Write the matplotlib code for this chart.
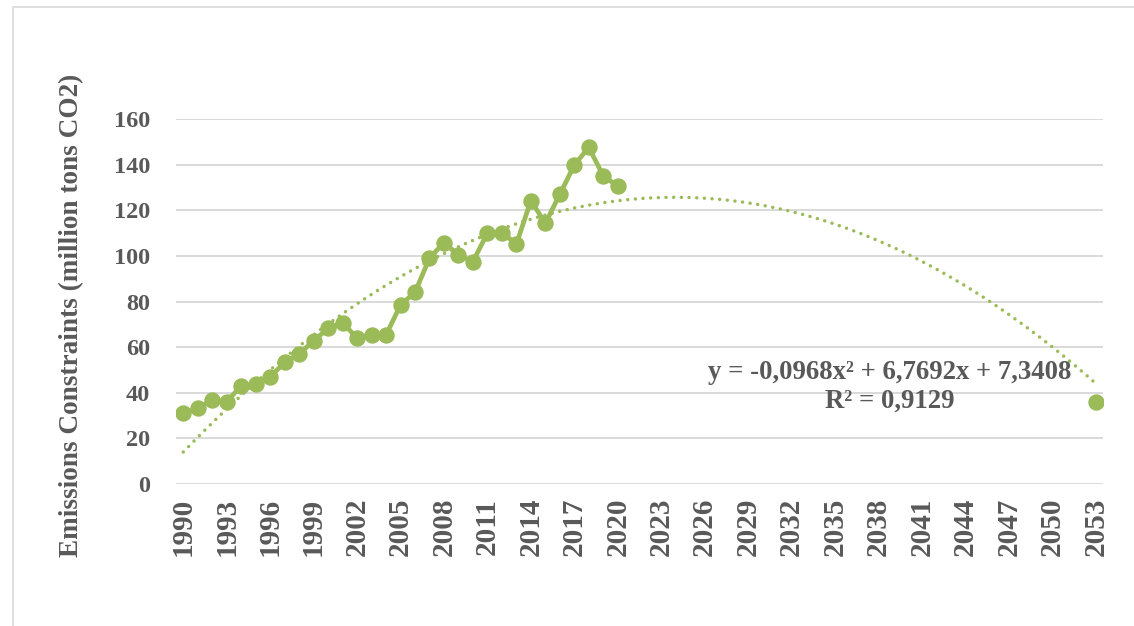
import numpy as np
import matplotlib.pyplot as plt
from matplotlib.patches import Rectangle

years = list(range(1990, 2054))
observed_years = list(range(1990, 2021)) + [2053]
emissions = [31.0, 33.2, 36.8, 36.1, 43.0, 43.7, 47.0, 53.3, 57.0, 62.8,
             68.2, 70.7, 64.0, 65.3, 65.3, 78.5, 84.0, 99.0, 105.8, 100.4,
             97.5, 110.0, 110.2, 105.2, 124.2, 114.3, 127.0, 139.8, 147.6, 135.0,
             130.6, 36.0]
# poly trend (order 2) over category index x = 1..64
trend_coef = [-0.0968, 6.7692, 7.3408]
r_squared = 0.9129
y_ticks = [0, 20, 40, 60, 80, 100, 120, 140, 160]

green = "#9BBB59"
grey_txt = "#595959"
grid_col = "#D9D9D9"
serif = ["Liberation Serif", "DejaVu Serif"]

fig = plt.figure(figsize=(11.34, 6.26), dpi=100)
fig.patches.append(Rectangle((13 / 1134, -0.1), 1.2, 1 - 7 / 626 + 0.1,
                             transform=fig.transFigure, fill=False,
                             edgecolor=grid_col, linewidth=1.2))
ax = fig.add_axes([176 / 1134, 1 - 484 / 626, 927 / 1134, 365 / 626])

idx = {yr: i + 1 for i, yr in enumerate(years)}
xs = [idx[y] for y in observed_years]

# 1990-2020 connected, 2053 on its own
ax.plot(xs[:-1], emissions[:-1], color=green, linewidth=3.4, marker="o",
        markersize=10.8, zorder=3)
ax.plot(xs[-1:], emissions[-1:], color=green, linestyle="none", marker="o",
        markersize=10.8, zorder=3)

tx = np.linspace(1, len(years), 400)
ty = np.polyval(trend_coef, tx)
ax.plot(tx, ty, color=green, linewidth=2.5, linestyle=(0, (0.01, 2.2)),
        dash_capstyle="round", zorder=2)

a, b, c = trend_coef
eq = "y = {}x\u00b2 + {}x + {}\nR\u00b2 = {}".format(
    f"{a:.4f}".replace(".", ","), f"{b:.4f}".replace(".", ","),
    f"{c:.4f}".replace(".", ","), f"{r_squared:.4f}".replace(".", ","))
ax.text(890 / 1134, 1 - 387 / 626, eq, transform=fig.transFigure,
        ha="center", va="center", fontsize=19.3, fontweight="bold",
        color=grey_txt, family=serif, linespacing=1.2)

ax.set_xlim(0.5, len(years) + 0.5)
ax.set_ylim(0, 160)
tick_years = years[::3]
ax.set_xticks([idx[y] for y in tick_years])
ax.set_xticklabels([str(y) for y in tick_years], rotation=90)
ax.set_yticks(y_ticks)
ax.set_yticklabels([str(v) for v in y_ticks])
for lab in ax.get_xticklabels() + ax.get_yticklabels():
    lab.set_family(serif)
    lab.set_fontweight("bold")
    lab.set_color(grey_txt)
for lab in ax.get_yticklabels():
    lab.set_fontsize(17.5)
for lab in ax.get_xticklabels():
    lab.set_fontsize(21)
ax.tick_params(axis="y", length=0, pad=18.5)
ax.tick_params(axis="x", length=0, pad=10)

ax.grid(axis="y", color=grid_col, linewidth=1.4)
ax.set_axisbelow(True)
for s in ax.spines.values():
    s.set_visible(False)

fig.text(72 / 1134, 1 - 315 / 626, "Emissions Constraints (million tons CO2)",
         rotation=90, ha="center", va="center", fontsize=19.6, fontweight="bold",
         color=grey_txt, family=serif)

fig.savefig("out.png", dpi=100)
